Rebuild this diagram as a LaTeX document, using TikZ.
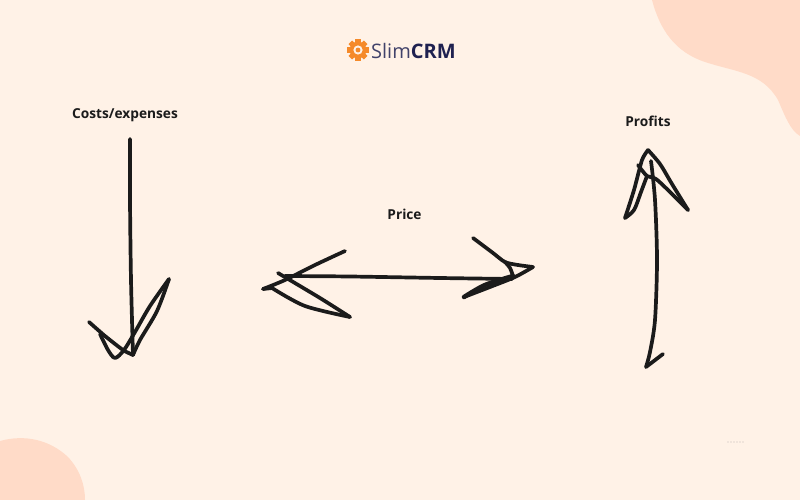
\documentclass[tikz,border=0pt]{standalone}
\usepackage{fontspec}
\setmainfont{Open Sans}
\definecolor{bgc}{HTML}{FFF2E7}
\definecolor{blobc}{HTML}{FFDBC8}
\definecolor{ink}{HTML}{1B1B1B}
\definecolor{gearc}{HTML}{F58A2A}
\definecolor{navy}{HTML}{1F2150}
\tikzset{
  sketch/.style={draw=ink,line width=3.7pt,line cap=round,line join=round},
  lbl/.style={font=\fontsize{13.7}{16}\selectfont\bfseries,text=ink,inner sep=0pt,anchor=center}
}
\begin{document}
\begin{tikzpicture}[x=1pt,y=-1pt]
\useasboundingbox (0,0) rectangle (800,500);
\fill[bgc] (0,0) rectangle (800,500);
% blobs
\fill[blobc] (652,0) .. controls (660,30) and (675,52) .. (705,62)
  .. controls (735,72) and (762,72) .. (778,100)
  .. controls (785,116) and (790,130) .. (800,136) -- (800,0) -- cycle;
\fill[blobc] (0,441) .. controls (25,434) and (50,440) .. (68,457)
  .. controls (80,470) and (85,485) .. (85,500) -- (0,500) -- cycle;
% logo gear
\begin{scope}[shift={(358,50)}]
  \foreach \a in {0,45,...,315}{
    \fill[gearc,rotate=\a] (-2.6,-10.8) rectangle (2.6,-5);
  }
  \fill[gearc] (0,0) circle (8.4);
  \fill[bgc] (0,0) circle (4.6);
  \fill[gearc] (0,0) circle (2.4);
\end{scope}
\node[inner sep=0pt,anchor=west,font=\fontsize{20}{24}\selectfont] (logo) at (371,51)
  {\textcolor{navy!85}{Slim}\textcolor{navy}{\bfseries CRM}};
% labels
\node[lbl] (costs) at (125,115.5) {Costs/expenses};
\node[lbl] (price) at (404.5,214) {Price};
\node[lbl] (profits) at (648,121) {Profits};
% down arrow
\draw[sketch] plot[smooth,tension=0.5] coordinates {(130,139) (130,200) (131,280) (133,355)};
\draw[sketch] plot[smooth,tension=0.35] coordinates {(89,322) (105,336) (123,350) (133,355)};
\draw[sketch] plot[smooth,tension=0.5] coordinates {(133,355) (140,340) (157,311) (169,279)};
\draw[sketch] plot[smooth,tension=0.5] coordinates {(169,279) (150,306) (135,332) (124,350) (115,358) (108,350) (100,334)};
% left-right arrow
\draw[sketch] plot[smooth,tension=0.5] coordinates {(285,276) (350,276.5) (440,278) (512,279)};
\draw[sketch] plot[smooth,tension=0.5] coordinates {(345,251) (315,265) (285,280) (263,289)};
\draw[sketch] (263,289) -- (272,288);
\draw[sketch] plot[smooth,tension=0.5] coordinates {(272,288) (305,306) (350,317)};
\draw[sketch] plot[smooth,tension=0.4] coordinates {(350,317) (320,298) (278,273)};
\draw[sketch] plot[smooth,tension=0.5] coordinates {(473,238) (493,253) (505,262) (518,265) (533,267)};
\draw[sketch] plot[smooth,tension=0.5] coordinates {(533,267) (515,277) (490,287) (464,297)};
\draw[sketch,line width=4.5pt] plot[smooth,tension=0.5] coordinates {(464,297) (485,285) (513,276)};
\draw[sketch] plot[smooth,tension=0.5] coordinates {(513,276) (510,268) (505,262)};
% up arrow
\draw[sketch] (663,354) -- (646,367);
\draw[sketch] plot[smooth,tension=0.5] coordinates {(646,367) (650,352) (655,320) (657,260) (655,200) (651,161)};
\draw[sketch] plot[smooth,tension=0.5] coordinates {(638,165) (647,176) (656,179) (672,194) (688,210)};
\draw[sketch] plot[smooth,tension=0.5] coordinates {(688,210) (672,184) (660,164) (648,150)};
\draw[sketch] plot[smooth,tension=0.4] coordinates {(648,150) (642,160) (634,190) (625,218)};
\draw[sketch] plot[smooth,tension=0.5] coordinates {(625,218) (634,210) (641,192) (647,176)};
% faint mark
\draw[bgc!88!gray,line width=1.5pt,dash pattern=on 1.5pt off 1.5pt] (727,442) -- (745,442);
\end{tikzpicture}
\end{document}
